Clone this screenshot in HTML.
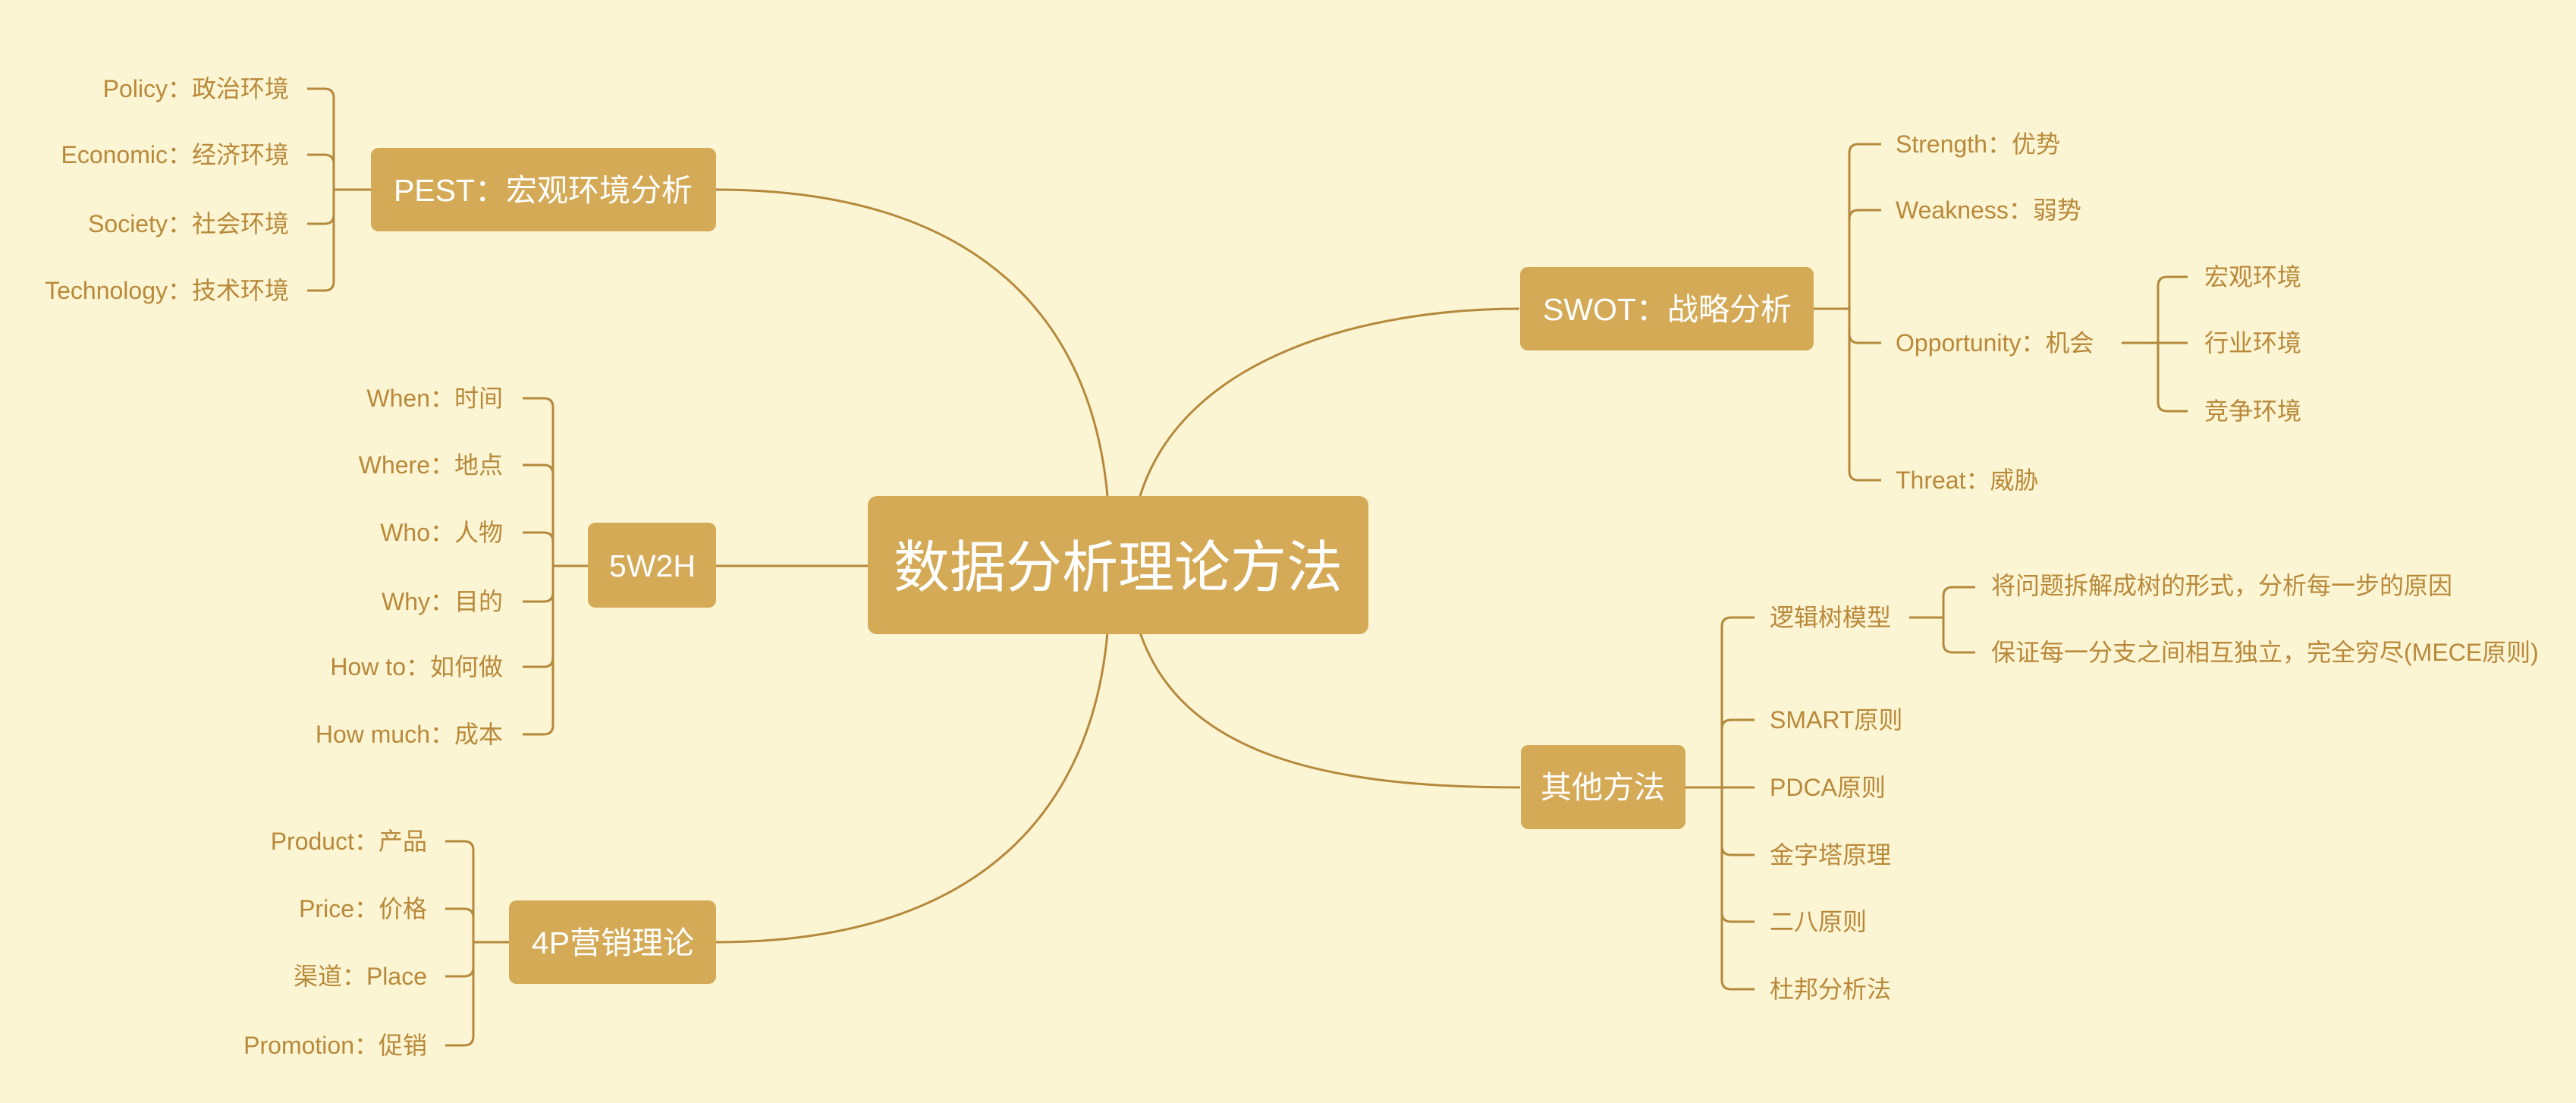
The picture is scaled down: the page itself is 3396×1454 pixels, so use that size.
<!DOCTYPE html>
<html><head><meta charset="utf-8"><style>
html,body{margin:0;padding:0;background:#fcf5d4;}
svg{display:block}
text{font-family:"Liberation Sans","Noto Sans CJK SC",sans-serif;}
.l{font-size:32px;fill:#b8893a;dominant-baseline:central}
.n{font-size:41px;fill:#fff;dominant-baseline:central;text-anchor:middle}
.ln{stroke:#b5893c;stroke-width:3;fill:none}
.bx{fill:#d4aa56}
</style></head><body>
<svg width="3396" height="1454" viewBox="0 0 3396 1454" xmlns="http://www.w3.org/2000/svg">
<rect width="3396" height="1454" fill="#fcf5d4"/>
<path class="ln" d="M944,250 C1300,250 1440,430 1460,654"/>
<path class="ln" d="M944,746 L1144,746"/>
<path class="ln" d="M944,1242 C1300,1242 1440,1060 1460,834"/>
<path class="ln" d="M1503,654 C1560,470 1800,407 2003,407"/>
<path class="ln" d="M1503,834 C1560,1000 1760,1038 2004,1038"/>

<path class="ln" d="M405,117 H428 Q440,117 440,129 V371 Q440,383 428,383 H405"/>
<path class="ln" d="M405,204 H428 Q440,204 440,216"/>
<path class="ln" d="M405,295 H428 Q440,295 440,283"/>
<path class="ln" d="M440,250 H489"/>
<g class="l" text-anchor="end">
<text x="381" y="117">Policy：政治环境</text>
<text x="381" y="204">Economic：经济环境</text>
<text x="381" y="295">Society：社会环境</text>
<text x="381" y="383">Technology：技术环境</text>
</g>
<rect class="bx" x="489" y="195" width="455" height="110" rx="10"/>
<text class="n" x="716" y="251">PEST：宏观环境分析</text>

<path class="ln" d="M689,525 H717 Q729,525 729,537 V956 Q729,968 717,968 H689"/>
<path class="ln" d="M689,613 H717 Q729,613 729,625"/>
<path class="ln" d="M689,702 H717 Q729,702 729,714"/>
<path class="ln" d="M689,793 H717 Q729,793 729,781"/>
<path class="ln" d="M689,879 H717 Q729,879 729,867"/>
<path class="ln" d="M729,746 H775"/>
<g class="l" text-anchor="end">
<text x="663" y="525">When：时间</text>
<text x="663" y="613">Where：地点</text>
<text x="663" y="702">Who：人物</text>
<text x="663" y="793">Why：目的</text>
<text x="663" y="879">How to：如何做</text>
<text x="663" y="968">How much：成本</text>
</g>
<rect class="bx" x="775" y="689" width="169" height="112" rx="10"/>
<text class="n" x="860" y="746">5W2H</text>

<path class="ln" d="M587,1109 H612 Q624,1109 624,1121 V1366 Q624,1378 612,1378 H587"/>
<path class="ln" d="M587,1198 H612 Q624,1198 624,1210"/>
<path class="ln" d="M587,1287 H612 Q624,1287 624,1275"/>
<path class="ln" d="M624,1242 H671"/>
<g class="l" text-anchor="end">
<text x="563" y="1109">Product：产品</text>
<text x="563" y="1198">Price：价格</text>
<text x="563" y="1287">渠道：Place</text>
<text x="563" y="1378">Promotion：促销</text>
</g>
<rect class="bx" x="671" y="1187" width="273" height="110" rx="10"/>
<text class="n" x="808" y="1243">4P营销理论</text>

<rect class="bx" x="1144" y="654" width="660" height="182" rx="12"/>
<text class="n" x="1474" y="748" style="font-size:74px">数据分析理论方法</text>

<rect class="bx" x="2004" y="352" width="387" height="110" rx="10"/>
<text class="n" x="2198" y="408">SWOT：战略分析</text>
<path class="ln" d="M2391,407 H2438"/>
<path class="ln" d="M2480,190 H2450 Q2438,190 2438,202 V621 Q2438,633 2450,633 H2480"/>
<path class="ln" d="M2480,277 H2450 Q2438,277 2438,289"/>
<path class="ln" d="M2480,452 H2450 Q2438,452 2438,440"/>
<g class="l">
<text x="2499" y="190">Strength：优势</text>
<text x="2499" y="277">Weakness：弱势</text>
<text x="2499" y="452">Opportunity：机会</text>
<text x="2499" y="633">Threat：威胁</text>
</g>
<path class="ln" d="M2797,452 H2884"/>
<path class="ln" d="M2884,365 H2857 Q2845,365 2845,377 V530 Q2845,542 2857,542 H2884"/>
<g class="l">
<text x="2906" y="365">宏观环境</text>
<text x="2906" y="452">行业环境</text>
<text x="2906" y="542">竞争环境</text>
</g>

<rect class="bx" x="2005" y="982" width="217" height="111" rx="10"/>
<text class="n" x="2113" y="1038">其他方法</text>
<path class="ln" d="M2222,1038 H2313"/>
<path class="ln" d="M2313,814 H2282 Q2270,814 2270,826 V1292 Q2270,1304 2282,1304 H2313"/>
<path class="ln" d="M2313,949 H2282 Q2270,949 2270,961"/>
<path class="ln" d="M2313,1127 H2282 Q2270,1127 2270,1115"/>
<path class="ln" d="M2313,1215 H2282 Q2270,1215 2270,1203"/>
<g class="l">
<text x="2333" y="814">逻辑树模型</text>
<text x="2333" y="949">SMART原则</text>
<text x="2333" y="1038">PDCA原则</text>
<text x="2333" y="1127">金字塔原理</text>
<text x="2333" y="1215">二八原则</text>
<text x="2333" y="1304">杜邦分析法</text>
</g>
<path class="ln" d="M2517,814 H2562"/>
<path class="ln" d="M2604,774 H2574 Q2562,774 2562,786 V848 Q2562,860 2574,860 H2604"/>
<g class="l">
<text x="2625" y="772">将问题拆解成树的形式，分析每一步的原因</text>
<text x="2625" y="860">保证每一分支之间相互独立，完全穷尽(MECE原则)</text>
</g>
</svg>
</body></html>
